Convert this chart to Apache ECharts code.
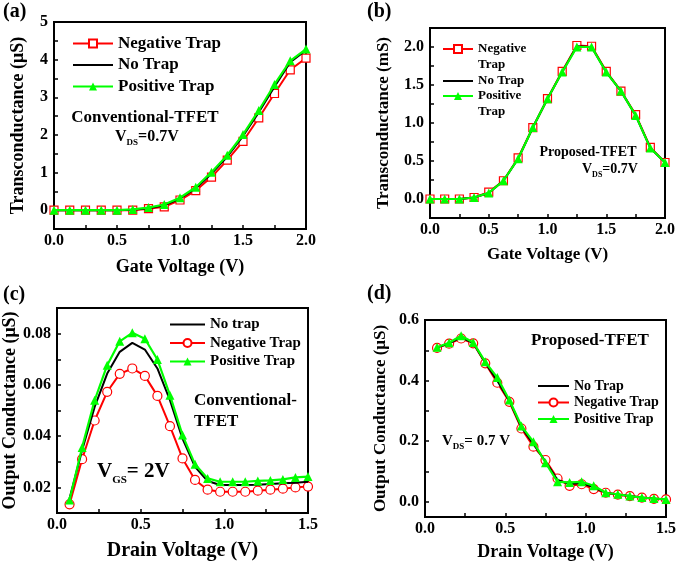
<!DOCTYPE html>
<html>
<head>
<meta charset="utf-8">
<script src="https://cdn.jsdelivr.net/npm/echarts@6/dist/echarts.min.js"></script>
<style>
html,body{margin:0;padding:0;background:#fff;}
#chart{width:685px;height:563px;}
</style>
</head>
<body>
<div id="chart"></div>
<script>
// ---------- DATA ----------
// (a) Conventional-TFET transconductance (uS) vs gate voltage
const aX = [0, 0.125, 0.25, 0.375, 0.5, 0.625, 0.75, 0.875, 1.0, 1.125, 1.25, 1.375, 1.5, 1.625, 1.75, 1.875, 2.0];
const aNeg = [0, 0, 0, 0, 0, 0, 0.04, 0.09, 0.27, 0.52, 0.88, 1.33, 1.83, 2.45, 3.10, 3.73, 4.04];
const aNo  = [0, 0, 0, 0, 0, 0.01, 0.05, 0.13, 0.31, 0.58, 0.97, 1.42, 1.97, 2.60, 3.28, 3.93, 4.25];
const aPos = [0, 0, 0, 0, 0, 0.02, 0.07, 0.15, 0.33, 0.61, 1.01, 1.46, 2.01, 2.65, 3.34, 3.97, 4.28];
// (b) Proposed-TFET transconductance (mS) vs gate voltage
const bX = [0, 0.125, 0.25, 0.375, 0.5, 0.625, 0.75, 0.875, 1.0, 1.125, 1.25, 1.375, 1.5, 1.625, 1.75, 1.875, 2.0];
const bNeg = [0, 0, 0, 0.02, 0.09, 0.24, 0.54, 0.94, 1.32, 1.68, 2.02, 2.01, 1.68, 1.42, 1.11, 0.68, 0.48];
const bNo  = [0, 0, 0, 0.02, 0.08, 0.24, 0.53, 0.94, 1.32, 1.67, 2.01, 2.00, 1.67, 1.42, 1.10, 0.67, 0.48];
const bPos = [0, 0, 0, 0.02, 0.08, 0.24, 0.53, 0.94, 1.32, 1.67, 2.00, 2.00, 1.67, 1.42, 1.10, 0.67, 0.48];
// (c) Conventional-TFET output conductance (uS) vs drain voltage
const cX = [0.075, 0.15, 0.225, 0.3, 0.375, 0.45, 0.525, 0.6, 0.675, 0.75, 0.825, 0.9, 0.975, 1.05, 1.125, 1.2, 1.275, 1.35, 1.425, 1.5];
const cNo  = [0.0157, 0.0345, 0.0514, 0.0644, 0.0729, 0.0764, 0.0738, 0.0664, 0.0540, 0.0390, 0.0280, 0.0225, 0.0209, 0.0209, 0.0209, 0.0210, 0.0213, 0.0216, 0.0218, 0.0222];
const cNeg = [0.0134, 0.0310, 0.0461, 0.0573, 0.0643, 0.0664, 0.0635, 0.0557, 0.0439, 0.0313, 0.0229, 0.0191, 0.0183, 0.0183, 0.0183, 0.0187, 0.0191, 0.0195, 0.0200, 0.0203];
const cPos = [0.0151, 0.0356, 0.0540, 0.0677, 0.0770, 0.0803, 0.0780, 0.0699, 0.0560, 0.0404, 0.0290, 0.0235, 0.0222, 0.0222, 0.0222, 0.0225, 0.0227, 0.0231, 0.0239, 0.0242];
// (d) Proposed-TFET output conductance (uS) vs drain voltage
const dX = [0.075, 0.15, 0.225, 0.3, 0.375, 0.45, 0.525, 0.6, 0.675, 0.75, 0.825, 0.9, 0.975, 1.05, 1.125, 1.2, 1.275, 1.35, 1.425, 1.5];
const dNo  = [0.509, 0.523, 0.543, 0.524, 0.459, 0.400, 0.333, 0.246, 0.190, 0.133, 0.072, 0.059, 0.062, 0.048, 0.030, 0.024, 0.019, 0.014, 0.011, 0.008];
const dNeg = [0.508, 0.522, 0.539, 0.523, 0.457, 0.393, 0.330, 0.242, 0.182, 0.138, 0.077, 0.053, 0.058, 0.042, 0.030, 0.024, 0.019, 0.014, 0.010, 0.008];
const dPos = [0.510, 0.525, 0.548, 0.526, 0.462, 0.410, 0.336, 0.250, 0.198, 0.129, 0.066, 0.064, 0.066, 0.053, 0.030, 0.025, 0.019, 0.014, 0.011, 0.008];

// tick label values
const aXLabels = [0, 0.5, 1.0, 1.5, 2.0];
const aYLabels = [0, 1, 2, 3, 4, 5];
const bXLabels = [0, 0.5, 1.0, 1.5, 2.0];
const bYLabels = [0, 0.5, 1.0, 1.5, 2.0];
const cXLabels = [0, 0.5, 1.0, 1.5];
const cYLabels = [0.02, 0.04, 0.06, 0.08];
const dXLabels = [0, 0.5, 1.0, 1.5];
const dYLabels = [0, 0.2, 0.4, 0.6];

// ---------- STYLE ----------
const FONT = '"Liberation Serif", "Times New Roman", serif';
const RED = '#ff0000', GREEN = '#00ff00', BLACK = '#000000';

function steps(a, b, s) { const r = []; const n = Math.round((b - a) / s); for (let i = 0; i <= n; i++) r.push(+(a + i * s).toFixed(6)); return r; }
function zip(xs, ys) { return xs.map((x, i) => [x, ys[i]]); }

const grids = [
  { left: 54, top: 22, width: 252, height: 207 },
  { left: 430, top: 28, width: 235, height: 190 },
  { left: 57, top: 308, width: 251, height: 205 },
  { left: 425, top: 320, width: 241, height: 197 }
].map(g => Object.assign(g, { show: true, borderColor: '#000', borderWidth: 2, backgroundColor: 'transparent', containLabel: false }));

function axis(kind, idx, o) {
  return {
    type: 'value', gridIndex: idx, min: o.min, max: o.max,
    axisLine: { show: true, onZero: false, lineStyle: { color: '#000', width: 2 } },
    axisTick: { show: true, inside: true, length: 4, customValues: o.ticks, lineStyle: { color: '#000', width: 1.5 } },
    axisLabel: {
      customValues: o.labels, color: '#000', fontFamily: FONT, fontWeight: 'bold', fontSize: o.lsize || 16,
      margin: kind === 'x' ? 4 : 6, formatter: v => Number(v).toFixed(o.dec)
    },
    splitLine: { show: false },
    name: o.name, nameLocation: 'middle', nameGap: o.gap,
    nameTextStyle: { color: '#000', fontFamily: FONT, fontWeight: 'bold', fontSize: o.nsize }
  };
}

const xAxes = [
  axis('x', 0, { min: 0, max: 2, ticks: steps(0, 2, 0.25), labels: aXLabels, dec: 1, name: 'Gate Voltage (V)', gap: 29, nsize: 18 }),
  axis('x', 1, { min: 0, max: 2, ticks: steps(0, 2, 0.25), labels: bXLabels, dec: 1, name: 'Gate Voltage (V)', gap: 28, nsize: 17 }),
  axis('x', 2, { min: 0, max: 1.5, ticks: steps(0, 1.5, 0.25), labels: cXLabels, dec: 1, name: 'Drain Voltage (V)', gap: 28, nsize: 20 }),
  axis('x', 3, { min: 0, max: 1.5, ticks: steps(0, 1.5, 0.25), labels: dXLabels, dec: 1, name: 'Drain Voltage (V)', gap: 26, nsize: 18 })
];
const yAxes = [
  axis('y', 0, { min: -0.5, max: 5, ticks: steps(0, 5, 0.5), labels: aYLabels, dec: 0, name: 'Transconductance (\u03bcS)', gap: 27, nsize: 18 }),
  axis('y', 1, { min: -0.25, max: 2.25, ticks: steps(0, 2, 0.25), labels: bYLabels, dec: 1, name: 'Transconductance (mS)', gap: 38, nsize: 17 }),
  axis('y', 2, { min: 0.01, max: 0.09, ticks: steps(0.02, 0.08, 0.01), labels: cYLabels, dec: 2, name: 'Output Conductance (\u03bcS)', gap: 36, nsize: 18 }),
  axis('y', 3, { min: -0.05, max: 0.6, ticks: steps(0, 0.6, 0.1), labels: dYLabels, dec: 1, name: 'Output Conductance (\u03bcS)', gap: 36, nsize: 17 })
];

function neg(name, idx, xs, ys, sym, size) {
  return { name, type: 'line', xAxisIndex: idx, yAxisIndex: idx, data: zip(xs, ys), symbol: sym, symbolSize: size,
    lineStyle: { color: RED, width: 2 }, itemStyle: { color: '#fff', borderColor: RED, borderWidth: 1.2 }, z: 2, animation: false };
}
function noT(name, idx, xs, ys) {
  return { name, type: 'line', xAxisIndex: idx, yAxisIndex: idx, data: zip(xs, ys), symbol: 'none', showSymbol: false,
    lineStyle: { color: BLACK, width: 2 }, itemStyle: { color: BLACK }, z: 3, animation: false };
}
function pos(name, idx, xs, ys) {
  return { name, type: 'line', xAxisIndex: idx, yAxisIndex: idx, data: zip(xs, ys), symbol: 'triangle', symbolSize: 9,
    lineStyle: { color: GREEN, width: 2.2 }, itemStyle: { color: GREEN }, z: 4, animation: false };
}

const series = [
  neg('Negative Trap|a', 0, aX, aNeg, 'rect', 8), noT('No Trap|a', 0, aX, aNo), pos('Positive Trap|a', 0, aX, aPos),
  neg('Negative Trap|b', 1, bX, bNeg, 'rect', 8), noT('No Trap|b', 1, bX, bNo), pos('Positive Trap|b', 1, bX, bPos),
  neg('Negative Trap|c', 2, cX, cNeg, 'circle', 9), noT('No trap|c', 2, cX, cNo), pos('Positive Trap|c', 2, cX, cPos),
  neg('Negative Trap|d', 3, dX, dNeg, 'circle', 9), noT('No Trap|d', 3, dX, dNo), pos('Positive Trap|d', 3, dX, dPos)
];

// legend entry helper: line-only series hide the symbol
const item = n => n.indexOf('No ') === 0 ? { name: n, itemStyle: { opacity: 0 } } : { name: n };
function legend(names, left, top, size, lh, gap, iw, fmt) {
  return { data: names.map(item), orient: 'vertical', left, top, padding: 0, itemGap: gap, itemWidth: iw, itemHeight: 10, selectedMode: false,
    textStyle: { color: '#000', fontFamily: FONT, fontWeight: 'bold', fontSize: size, lineHeight: lh },
    formatter: fmt || (n => n.split('|')[0]) };
}
const wrap = n => ' \n' + n.split('|')[0].replace(' ', '\n');
const legends = [
  legend(['Negative Trap|a', 'No Trap|a', 'Positive Trap|a'], 72, 35, 17, 16, 4.5, 40),
  legend(['Negative Trap|b'], 442, 25, 13, 16, 0, 30, wrap),
  legend(['No Trap|b'], 442, 73, 13, 16, 0, 30),
  legend(['Positive Trap|b'], 442, 72, 13, 16, 0, 30, wrap),
  legend(['No trap|c', 'Negative Trap|c', 'Positive Trap|c'], 169, 317, 15, 15, 3.5, 35),
  legend(['No Trap|d', 'Negative Trap|d', 'Positive Trap|d'], 537, 379, 14, 14, 2.5, 31)
];

function txt(text, x, y, size, align) {
  return { type: 'text', x, y, silent: true, z: 100,
    style: { text, fill: '#000', font: 'bold ' + size + 'px ' + FONT, align: align || 'left', verticalAlign: 'middle' } };
}
function vsub(main, sub, rest, x, y, size, subSize, align) {
  const base = { fontSize: size, fontWeight: 'bold', fontFamily: FONT, fill: '#000', lineHeight: size + 8 };
  return { type: 'text', x, y, silent: true, z: 100,
    style: { text: '{m|' + main + '}{s|' + sub + '}{m|' + rest + '}', align: align || 'left', verticalAlign: 'middle',
      rich: { m: base, s: { fontSize: subSize, fontWeight: 'bold', fontFamily: FONT, fill: '#000', padding: [Math.round(size * 0.75), 0, 0, 0] } } } };
}

const graphics = [
  txt('(a)', 3, 12, 20), txt('(b)', 367, 12, 20), txt('(c)', 3, 295, 20), txt('(d)', 367, 294, 20),
  txt('Conventional-TFET', 145, 118, 17, 'center'),
  vsub('V', 'DS', '=0.7V', 115, 137, 16, 9),
  txt('Proposed-TFET', 588, 152, 14, 'center'),
  vsub('V', 'DS', '=0.7V', 582, 169, 14, 8),
  txt('Conventional-', 194, 401, 17), txt('TFET', 194, 422, 17),
  vsub('V', 'GS', '= 2V', 97, 472, 21, 11),
  txt('Proposed-TFET', 590, 341, 17, 'center'),
  vsub('V', 'DS', '= 0.7 V', 442, 441, 15, 9)
];

const chart = echarts.init(document.getElementById('chart'), null, { renderer: 'canvas' });
chart.setOption({
  backgroundColor: '#fff',
  animation: false,
  grid: grids,
  xAxis: xAxes,
  yAxis: yAxes,
  legend: legends,
  series: series,
  graphic: graphics
});
</script>
</body>
</html>
